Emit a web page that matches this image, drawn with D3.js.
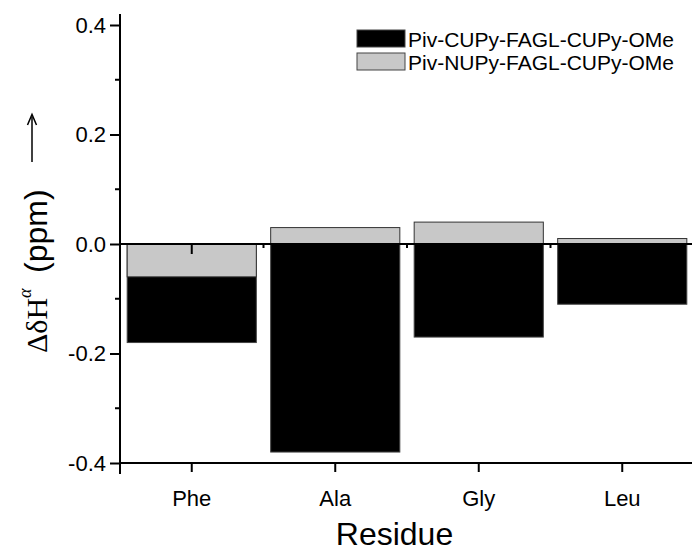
<!DOCTYPE html>
<html><head><meta charset="utf-8">
<script src="https://cdn.jsdelivr.net/npm/d3@7"></script>
<style>body{margin:0;background:#fff}svg{display:block}</style>
</head><body>
<script>
const categories = ["Phe","Ala","Gly","Leu"];
const seriesNames = ["Piv-CUPy-FAGL-CUPy-OMe","Piv-NUPy-FAGL-CUPy-OMe"];
const cupyValues = [-0.18, -0.38, -0.17, -0.11];
const nupyValues = [-0.06, 0.03, 0.04, 0.01];
const yMajorTicks = [-0.4, -0.2, 0.0, 0.2, 0.4];
const yMinorTicks = [-0.3, -0.1, 0.1, 0.3];

const W = 692, H = 553;
const svg = d3.select("body").append("svg").attr("width", W).attr("height", H);

const x = d3.scaleBand().domain(categories).range([120, 694]).paddingInner(0.1).paddingOuter(0.05);
const y = d3.scaleLinear().domain([-0.4, 0.42]).range([463, 463 - 0.82 * 547.5]);
const step = x.step();
const FONT = "Liberation Sans, Arial, Helvetica, sans-serif";
const SERIF = "Liberation Serif, Times New Roman, serif";

// bars: black first, grey on top
const g = svg.append("g");
g.selectAll("rect.c").data(categories).join("rect")
  .attr("x", d => x(d)).attr("width", x.bandwidth())
  .attr("y", (d,i) => y(Math.max(0, cupyValues[i])))
  .attr("height", (d,i) => Math.abs(y(cupyValues[i]) - y(0)))
  .attr("fill", "#000").attr("stroke", "#444").attr("stroke-width", 1);
g.selectAll("rect.n").data(categories).join("rect")
  .attr("x", d => x(d)).attr("width", x.bandwidth())
  .attr("y", (d,i) => y(Math.max(0, nupyValues[i])))
  .attr("height", (d,i) => Math.abs(y(nupyValues[i]) - y(0)))
  .attr("fill", "#c8c8c8").attr("stroke", "#333").attr("stroke-width", 1);

// zero line axis
const zero = svg.append("g");
zero.append("line").attr("x1", 120).attr("x2", W).attr("y1", y(0)).attr("y2", y(0))
  .attr("stroke", "#000").attr("stroke-width", 2);
zero.selectAll("line.maj").data(categories).join("line")
  .attr("x1", d => x(d) + x.bandwidth()/2).attr("x2", d => x(d) + x.bandwidth()/2)
  .attr("y1", y(0)).attr("y2", y(0) + 10).attr("stroke", "#000").attr("stroke-width", 2);
zero.selectAll("line.min").data(categories.slice(1)).join("line")
  .attr("x1", d => x(d) - step*0.05).attr("x2", d => x(d) - step*0.05)
  .attr("y1", y(0)).attr("y2", y(0) + 4).attr("stroke", "#000").attr("stroke-width", 2);

// bottom axis
const xAxis = d3.axisBottom(x).tickSize(9).tickPadding(9).tickSizeOuter(0);
const xg = svg.append("g").attr("transform", `translate(0,${y(-0.4)})`).call(xAxis);
xg.select(".domain").attr("d", `M120,0H${W}`).attr("stroke-width", 2);
xg.selectAll(".tick line").attr("stroke-width", 2);
xg.selectAll(".tick text").attr("font-family", FONT).attr("font-size", 22).attr("fill", "#000")
  .attr("y", 0).attr("dy", 0).attr("transform", "translate(0,43)");

// y axis
const yAxis = d3.axisLeft(y).tickValues(yMajorTicks).tickSize(10).tickPadding(4)
  .tickFormat(d => d3.format(".1f")(d).replace("\u2212", "-")).tickSizeOuter(0);
const yg = svg.append("g").attr("transform", "translate(120,0)").call(yAxis);
yg.select(".domain").attr("d", `M0,${y(0.42)}V474`).attr("stroke-width", 2);
yg.selectAll(".tick line").attr("stroke-width", 2);
yg.selectAll(".tick text").attr("font-family", FONT).attr("font-size", 22).attr("fill", "#000");
yg.selectAll("line.minor").data(yMinorTicks).join("line")
  .attr("x1", -5).attr("x2", 0).attr("y1", d => y(d)).attr("y2", d => y(d))
  .attr("stroke", "#000").attr("stroke-width", 2);

// x title
svg.append("text").attr("x", 394.5).attr("y", 545)
  .attr("text-anchor", "middle").attr("font-family", FONT).attr("font-size", 32).text("Residue");

// y title
const yt = svg.append("text").attr("transform", "translate(47,353) rotate(-90)");
yt.append("tspan").attr("font-family", SERIF).attr("font-size", 30).text("ΔδH");
yt.append("tspan").attr("font-family", SERIF).attr("font-style", "italic")
  .attr("font-size", 18).attr("dy", -16).text("α");
yt.append("tspan").attr("font-family", FONT).attr("font-size", 32).attr("dy", 16).attr("x", 80).text("(ppm)");
// arrow
svg.append("line").attr("x1", 32).attr("x2", 32).attr("y1", 162).attr("y2", 117)
  .attr("stroke", "#000").attr("stroke-width", 1.5);
svg.append("path").attr("d", "M27.5,125 L32,114.5 L36.5,125").attr("fill", "none")
  .attr("stroke", "#000").attr("stroke-width", 1.5);

// legend
const lg = svg.append("g");
const legFill = ["#000", "#c8c8c8"];
seriesNames.forEach((s, i) => {
  lg.append("rect").attr("x", 357).attr("y", 30 + i*23).attr("width", 48).attr("height", 17)
    .attr("fill", legFill[i]).attr("stroke", "#444").attr("stroke-width", 1);
  lg.append("text").attr("x", 408).attr("y", 46.5 + i*23).attr("font-family", FONT)
    .attr("font-size", 21).attr("fill", "#000").text(s);
});
</script>
</body></html>
